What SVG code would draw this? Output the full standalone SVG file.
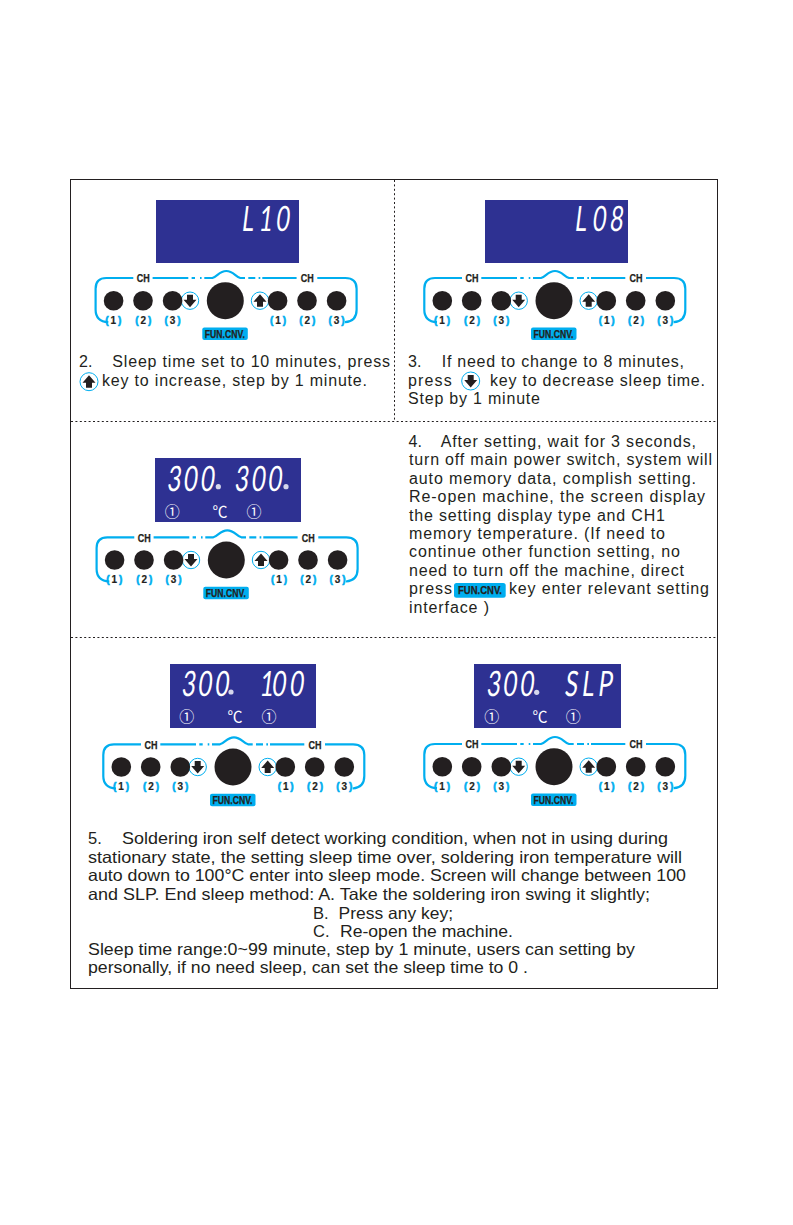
<svg xmlns="http://www.w3.org/2000/svg" width="793" height="1225" viewBox="0 0 793 1225">
<style>
.t{font-family:"Liberation Sans",Arial,sans-serif;font-size:16px;fill:#231f20}
.u{font-family:"Liberation Sans",Arial,sans-serif;font-size:16.5px;fill:#231f20}
.n{font-family:"Liberation Sans",sans-serif;font-weight:700;fill:#231f20;text-anchor:start;font-size:10.5px;stroke:#231f20;stroke-width:.25}
.k{font-family:"Liberation Sans",sans-serif;font-weight:700;font-size:10px;fill:#231f20;stroke:#231f20;stroke-width:.2}
.k tspan{fill:#00aeef;stroke:#00aeef;stroke-width:.6}
.lcd{fill:#2e3192}
.s{font-family:Lato,sans-serif;font-weight:400;font-size:35px;fill:#fff}
.i{font-family:"Noto Sans CJK SC",sans-serif;font-size:15px;fill:#fff;text-anchor:middle}
.c{font-family:"Noto Sans CJK SC",sans-serif;font-size:15px;fill:#fff;text-anchor:middle}
.b{fill:#231f20}
.line{fill:none;stroke:#00aeef;stroke-width:2.2}
.a{fill:#fff;stroke:#00aeef;stroke-width:1}
.bd{fill:#00aeef}
.dot{stroke:#231f20;stroke-width:1;stroke-dasharray:2 2.4;fill:none}
.deg{fill:#d5d6ec}
</style>
<defs>
<polygon id="down" class="b" points="-3,-6 3,-6 3,-1 6.5,-1 0,6.5 -6.5,-1 -3,-1"/>
<polygon id="up" class="b" points="-3,6 3,6 3,1 6.5,1 0,-6.5 -6.5,1 -3,1"/>
<g id="shapes">
<path class="line" d="M-117,21.5C-124,21 -129.7,18 -129.7,9V-12C-129.7,-19 -126,-22.7 -119,-22.7H-92M-72.7,-22.7H-37M-33.7,-22.7H-30.3M-25.3,-22.7H-23.7M-21,-22.7H-13C-8,-24 -6,-29.7 1,-29.7C8,-29.7 10,-24 15,-22.7H19.7M23,-22.7H30M33.3,-22.7H35M37,-22.7H71.3M92,-22.7H120C127,-22.7 131.3,-19 131.3,-12V9C131.3,18 126,21 119.7,21.5"/>
<circle class="a" cx="-35.3" r="8.7"/><circle class="a" cx="34.7" r="8.7"/>
<use href="#down" x="-35.3"/><use href="#up" x="34.7"/>
<circle class="b" cx="-111.7" r="9.8"/><circle class="b" cx="-82.3" r="9.8"/><circle class="b" cx="-52.7" r="9.8"/>
<circle class="b" r="18.5"/>
<circle class="b" cx="52.3" r="9.8"/><circle class="b" cx="81.7" r="9.8"/><circle class="b" cx="111.3" r="9.8"/>
<rect class="bd" x="-23" y="26.7" width="45.5" height="12.5" rx="2"/>
</g>
</defs>

<g id="frame">
<rect x="70.5" y="179.5" width="647" height="809" fill="#fff" stroke="#231f20" stroke-width="1"/>
</g>
<g id="connectors">
<path class="dot" d="M394.5,180V421M71,421.5H717M71,637.5H717"/>
</g>

<g id="step2">
<rect class="lcd" x="156" y="200" width="143" height="63"/>
<text class="s" transform="translate(241,230.5) skewX(-7) scale(.66,1)" x="0 26 52">L10</text>
</g>
<g id="panel1" transform="translate(225.3,300.7)">
<use href="#shapes"/>
<text class="n" x="-88.5" y="-18.5" textLength="13" lengthAdjust="spacingAndGlyphs">CH</text><text class="n" x="75.5" y="-18.5" textLength="13" lengthAdjust="spacingAndGlyphs">CH</text>
<text class="k" x="-120" y="23" textLength="16"><tspan>(</tspan>1<tspan>)</tspan></text><text class="k" x="-90" y="23" textLength="16"><tspan>(</tspan>2<tspan>)</tspan></text><text class="k" x="-60.7" y="23" textLength="16"><tspan>(</tspan>3<tspan>)</tspan></text>
<text class="k" x="44.7" y="23" textLength="16"><tspan>(</tspan>1<tspan>)</tspan></text><text class="k" x="74" y="23" textLength="16"><tspan>(</tspan>2<tspan>)</tspan></text><text class="k" x="103.3" y="23" textLength="16"><tspan>(</tspan>3<tspan>)</tspan></text>
<text class="n" x="-20.5" y="37" textLength="40" lengthAdjust="spacingAndGlyphs">FUN.CNV.</text>
</g>
<g id="text2">
<text class="t" x="79" y="367">2.</text>
<text class="t" x="112.3" y="367" textLength="277.7">Sleep time set to 10 minutes, press</text>
<circle class="a" cx="89" cy="381.7" r="9"/><use href="#up" x="89" y="381.7"/>
<text class="t" x="102" y="386" textLength="265">key to increase, step by 1 minute.</text>
</g>

<g id="step3">
<rect class="lcd" x="485" y="200" width="143" height="63"/>
<text class="s" transform="translate(574,230.5) skewX(-7) scale(.66,1)" x="0 27 53">L08</text>
</g>
<g id="panel2" transform="translate(554,300.7)">
<use href="#shapes"/>
<text class="n" x="-88.5" y="-18.5" textLength="13" lengthAdjust="spacingAndGlyphs">CH</text><text class="n" x="75.5" y="-18.5" textLength="13" lengthAdjust="spacingAndGlyphs">CH</text>
<text class="k" x="-120" y="23" textLength="16"><tspan>(</tspan>1<tspan>)</tspan></text><text class="k" x="-90" y="23" textLength="16"><tspan>(</tspan>2<tspan>)</tspan></text><text class="k" x="-60.7" y="23" textLength="16"><tspan>(</tspan>3<tspan>)</tspan></text>
<text class="k" x="44.7" y="23" textLength="16"><tspan>(</tspan>1<tspan>)</tspan></text><text class="k" x="74" y="23" textLength="16"><tspan>(</tspan>2<tspan>)</tspan></text><text class="k" x="103.3" y="23" textLength="16"><tspan>(</tspan>3<tspan>)</tspan></text>
<text class="n" x="-20.5" y="37" textLength="40" lengthAdjust="spacingAndGlyphs">FUN.CNV.</text>
</g>
<g id="text3">
<text class="t" x="408" y="367">3.</text>
<text class="t" x="441.7" y="367" textLength="242.3">If need to change to 8 minutes,</text>
<text class="t" x="408" y="385.7" textLength="43.7">press</text>
<circle class="a" cx="470.7" cy="381" r="9"/><use href="#down" x="470.7" y="381"/>
<text class="t" x="490" y="385.7" textLength="215">key to decrease sleep time.</text>
<text class="t" x="408" y="404" textLength="132">Step by 1 minute</text>
</g>

<g id="step4">
<rect class="lcd" x="155" y="458" width="146" height="64"/>
<text class="s" transform="translate(166.5,490.5) skewX(-7) scale(.68,1)" x="0 24 49">300</text>
<text class="s" transform="translate(234,490.5) skewX(-7) scale(.68,1)" x="0 24.5 49">300</text>
<circle class="deg" cx="218.3" cy="486.7" r="2.6"/><circle class="deg" cx="286" cy="486.7" r="2.6"/>
<text class="i" x="172.3" y="516.5">①</text><text class="c" x="220" y="516.5">℃</text><text class="i" x="254" y="516.5">①</text>
</g>
<g id="panel3" transform="translate(226.3,560)">
<use href="#shapes"/>
<text class="n" x="-88.5" y="-18.5" textLength="13" lengthAdjust="spacingAndGlyphs">CH</text><text class="n" x="75.5" y="-18.5" textLength="13" lengthAdjust="spacingAndGlyphs">CH</text>
<text class="k" x="-120" y="23" textLength="16"><tspan>(</tspan>1<tspan>)</tspan></text><text class="k" x="-90" y="23" textLength="16"><tspan>(</tspan>2<tspan>)</tspan></text><text class="k" x="-60.7" y="23" textLength="16"><tspan>(</tspan>3<tspan>)</tspan></text>
<text class="k" x="44.7" y="23" textLength="16"><tspan>(</tspan>1<tspan>)</tspan></text><text class="k" x="74" y="23" textLength="16"><tspan>(</tspan>2<tspan>)</tspan></text><text class="k" x="103.3" y="23" textLength="16"><tspan>(</tspan>3<tspan>)</tspan></text>
<text class="n" x="-20.5" y="37" textLength="40" lengthAdjust="spacingAndGlyphs">FUN.CNV.</text>
</g>
<g id="text4">
<text class="t" x="408.5" y="447">4.</text>
<text class="t" x="440.7" y="447" textLength="255.3">After setting, wait for 3 seconds,</text>
<text class="t" x="409" y="465.4" textLength="303">turn off main power switch, system will</text>
<text class="t" x="409" y="483.8" textLength="287">auto memory data, complish setting.</text>
<text class="t" x="409" y="502.2" textLength="296">Re-open machine, the screen display</text>
<text class="t" x="409" y="520.6" textLength="256">the setting display type and CH1</text>
<text class="t" x="409" y="539" textLength="256">memory temperature. (If need to</text>
<text class="t" x="409" y="557.4" textLength="271">continue other function setting, no</text>
<text class="t" x="409" y="575.8" textLength="275">need to turn off the machine, direct</text>
<text class="t" x="409" y="594.2" textLength="43">press</text>
<rect class="bd" x="454" y="583" width="51.7" height="14.7" rx="2.5"/>
<text class="n" x="458" y="594.2" textLength="44" lengthAdjust="spacingAndGlyphs">FUN.CNV.</text>
<text class="t" x="509" y="594.2" textLength="200">key enter relevant setting</text>
<text class="t" x="409" y="612.6" textLength="80">interface )</text>
</g>

<g id="step5a">
<rect class="lcd" x="170" y="664" width="146" height="64"/>
<text class="s" transform="translate(181,695.5) skewX(-7) scale(.68,1)" x="0 24 49">300</text>
<text class="s" transform="translate(259,695.5) skewX(-7) scale(.68,1)" x="0 18 44">100</text>
<circle class="deg" cx="231" cy="692" r="2.6"/>
<text class="i" x="186.7" y="722">①</text><text class="c" x="235" y="722">℃</text><text class="i" x="269" y="722">①</text>
</g>
<g id="panel4" transform="translate(233,767)">
<use href="#shapes"/>
<text class="n" x="-88.5" y="-18.5" textLength="13" lengthAdjust="spacingAndGlyphs">CH</text><text class="n" x="75.5" y="-18.5" textLength="13" lengthAdjust="spacingAndGlyphs">CH</text>
<text class="k" x="-120" y="23" textLength="16"><tspan>(</tspan>1<tspan>)</tspan></text><text class="k" x="-90" y="23" textLength="16"><tspan>(</tspan>2<tspan>)</tspan></text><text class="k" x="-60.7" y="23" textLength="16"><tspan>(</tspan>3<tspan>)</tspan></text>
<text class="k" x="44.7" y="23" textLength="16"><tspan>(</tspan>1<tspan>)</tspan></text><text class="k" x="74" y="23" textLength="16"><tspan>(</tspan>2<tspan>)</tspan></text><text class="k" x="103.3" y="23" textLength="16"><tspan>(</tspan>3<tspan>)</tspan></text>
<text class="n" x="-20.5" y="37" textLength="40" lengthAdjust="spacingAndGlyphs">FUN.CNV.</text>
</g>

<g id="step5b">
<rect class="lcd" x="474" y="664" width="147" height="64"/>
<text class="s" transform="translate(486,695.5) skewX(-7) scale(.68,1)" x="0 24 49">300</text>
<text class="s" transform="translate(564,695.5) skewX(-7) scale(.68,1)" x="0 25 49">SLP</text>
<circle class="deg" cx="536.7" cy="692.3" r="2.6"/>
<text class="i" x="491.7" y="722">①</text><text class="c" x="540" y="722">℃</text><text class="i" x="573.3" y="722">①</text>
</g>
<g id="panel5" transform="translate(554,766.7)">
<use href="#shapes"/>
<text class="n" x="-88.5" y="-18.5" textLength="13" lengthAdjust="spacingAndGlyphs">CH</text><text class="n" x="75.5" y="-18.5" textLength="13" lengthAdjust="spacingAndGlyphs">CH</text>
<text class="k" x="-120" y="23" textLength="16"><tspan>(</tspan>1<tspan>)</tspan></text><text class="k" x="-90" y="23" textLength="16"><tspan>(</tspan>2<tspan>)</tspan></text><text class="k" x="-60.7" y="23" textLength="16"><tspan>(</tspan>3<tspan>)</tspan></text>
<text class="k" x="44.7" y="23" textLength="16"><tspan>(</tspan>1<tspan>)</tspan></text><text class="k" x="74" y="23" textLength="16"><tspan>(</tspan>2<tspan>)</tspan></text><text class="k" x="103.3" y="23" textLength="16"><tspan>(</tspan>3<tspan>)</tspan></text>
<text class="n" x="-20.5" y="37" textLength="40" lengthAdjust="spacingAndGlyphs">FUN.CNV.</text>
</g>
<g id="text5">
<text class="u" x="88" y="844">5.</text>
<text class="u" x="122" y="844" lengthAdjust="spacingAndGlyphs" textLength="546">Soldering iron self detect working condition, when not in using during</text>
<text class="u" x="88" y="862.7" lengthAdjust="spacingAndGlyphs" textLength="594">stationary state, the setting sleep time over, soldering iron temperature will</text>
<text class="u" x="88" y="881.3" lengthAdjust="spacingAndGlyphs" textLength="598">auto down to 100°C enter into sleep mode. Screen will change between 100</text>
<text class="u" x="88" y="900" lengthAdjust="spacingAndGlyphs" textLength="562">and SLP. End sleep method: A. Take the soldering iron swing it slightly;</text>
<text class="u" x="313" y="918.7">B.</text>
<text class="u" x="338.6" y="918.7" lengthAdjust="spacingAndGlyphs" textLength="114.4">Press any key;</text>
<text class="u" x="313" y="936.7">C.</text>
<text class="u" x="340" y="936.7" lengthAdjust="spacingAndGlyphs" textLength="173">Re-open the machine.</text>
<text class="u" x="88" y="954.7" lengthAdjust="spacingAndGlyphs" textLength="547">Sleep time range:0~99 minute, step by 1 minute, users can setting by</text>
<text class="u" x="88" y="972.7" lengthAdjust="spacingAndGlyphs" textLength="440">personally, if no need sleep, can set the sleep time to 0 .</text>
</g>
</svg>
